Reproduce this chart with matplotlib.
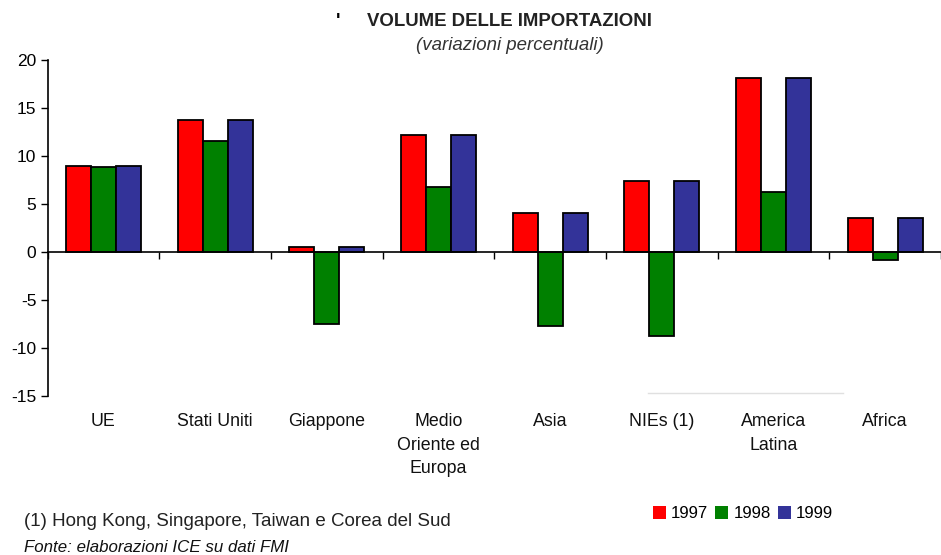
import numpy as np
import matplotlib.pyplot as plt
from matplotlib.lines import Line2D
from matplotlib.patches import Patch

plt.rcParams['font.family'] = ['Liberation Sans', 'DejaVu Sans']
plt.rcParams['axes.unicode_minus'] = False

# Dati
categorie = ["UE", "Stati Uniti", "Giappone", "Medio\nOriente ed\nEuropa", "Asia",
             "NIEs (1)", "America\nLatina", "Africa"]
anni = ["1997", "1998", "1999"]
v1997 = [9.0, 13.7, 0.5, 12.2, 4.1, 7.4, 18.1, 3.5]
v1998 = [8.9, 11.6, -7.5, 6.8, -7.7, -8.8, 6.2, -0.8]
v1999 = [9.0, 13.7, 0.5, 12.2, 4.1, 7.4, 18.1, 3.5]
colori = ["#ff0000", "#008000", "#333399"]

fig = plt.figure(figsize=(9.41, 5.55), dpi=100)
ax = fig.add_axes([47.5 / 941, 1 - 396 / 555, 893.5 / 941, 336 / 555])

x = np.arange(len(categorie))
w = 0.224
for i, (serie, c) in enumerate(zip([v1997, v1998, v1999], colori)):
    ax.bar(x + (i - 1) * w, serie, width=w, color=c, edgecolor="black", linewidth=1.3)

ax.set_xlim(-0.5, -0.5 + 893.5 / 113)
ax.set_ylim(-15, 20)
ax.set_yticks(range(-15, 21, 5))
ax.tick_params(axis='y', direction='out', length=5, width=1, labelsize=12.5, pad=3)

# asse x sullo zero
ax.spines['top'].set_visible(False)
ax.spines['right'].set_visible(False)
ax.spines['bottom'].set_position(('data', 0))
ax.spines['left'].set_linewidth(1.2)
ax.spines['bottom'].set_linewidth(1.2)
ax.set_xticks(np.arange(-0.5, len(categorie) - 0.4, 1.0))
ax.tick_params(axis='x', direction='out', length=5, width=1, labelbottom=False)

for xi, lab in zip(x, categorie):
    ax.text(xi, -0.052, lab, transform=ax.get_xaxis_transform(), ha='center',
            va='top', fontsize=12.8, linespacing=1.49, color='#111111')

# titoli
fig.text(0.359, 0.962, "'", fontsize=13.4, fontweight='bold', ha='center', va='center')
fig.text(0.5415, 0.962, "VOLUME DELLE IMPORTAZIONI", fontsize=13.4, fontweight='bold',
         ha='center', va='center', color='#222222')
fig.text(0.5415, 0.918, "(variazioni percentuali)", fontsize=13.4, fontstyle='italic',
         ha='center', va='center', color='#333333')

# linea grigia
fig.add_artist(Line2D([648 / 941, 843 / 941], [1 - 393 / 555, 1 - 393 / 555],
                      color='#e0e0e0', linewidth=1))

# legenda
handles = [Patch(facecolor=c, edgecolor='none') for c in colori]
fig.legend(handles, anni, loc='center', bbox_to_anchor=(0.7895, 0.074), ncol=3,
           frameon=False, fontsize=12.2, handlelength=0.75, handleheight=0.75,
           handletextpad=0.3, columnspacing=0.45)

# note
fig.text(24 / 941, 1 - 521 / 555, "(1) Hong Kong, Singapore, Taiwan e Corea del Sud",
         fontsize=13.5, ha='left', va='center', color='#222222')
fig.text(24 / 941, 1 - 547 / 555, "Fonte: elaborazioni ICE su dati FMI",
         fontsize=12.2, fontstyle='italic', ha='left', va='center', color='#111111')

fig.savefig("out.png", dpi=100)
